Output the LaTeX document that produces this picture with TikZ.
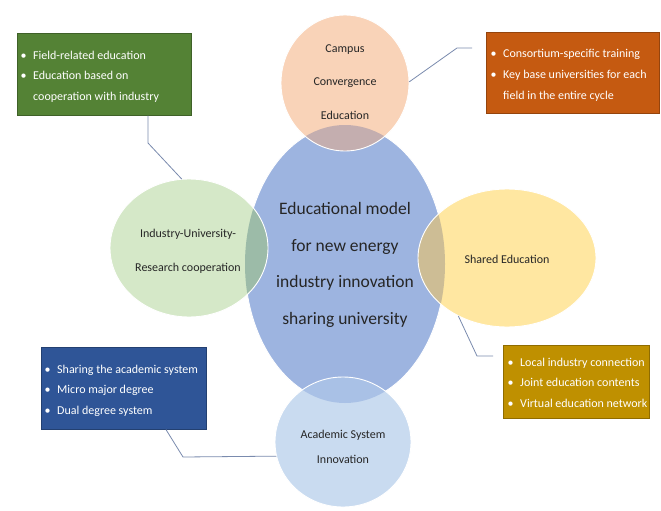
\documentclass[tikz,border=0pt]{standalone}
\usepackage{fontspec}
\setmainfont{Carlito}
\usetikzlibrary{shapes.geometric}
\definecolor{cblue}{HTML}{9DB4E0}
\definecolor{cpeach}{HTML}{F9D3B8}
\definecolor{cgreen}{HTML}{D5E8C8}
\definecolor{cyellow}{HTML}{FFE7A1}
\definecolor{clblue}{HTML}{C9DBF0}
\definecolor{ovpeach}{HTML}{C4AEAF}
\definecolor{ovgreen}{HTML}{9CBBA8}
\definecolor{ovyellow}{HTML}{CDBD95}
\definecolor{ovlblue}{HTML}{A9C1E6}
\definecolor{bgreen}{HTML}{548235}
\definecolor{borange}{HTML}{C55A11}
\definecolor{bblue}{HTML}{2F5597}
\definecolor{bgold}{HTML}{BF9000}
\definecolor{ctext}{HTML}{262626}
\definecolor{cconn}{HTML}{7A8BAE}
\newcommand{\bul}{\makebox[12.5pt][l]{•}}
\newcommand{\ind}{\hspace*{12.5pt}}
\begin{document}
\begin{tikzpicture}[x=1pt,y=-1pt,
  ell/.style={ellipse, inner sep=0pt, draw=none},
  ringline/.style={draw=white, line width=0.9pt},
  lbl/.style={align=center, text=ctext, inner sep=0pt},
  boxnode/.style={rectangle, anchor=north west, inner sep=0pt, draw=#1!75!black, line width=0.6pt, fill=#1},
  btxt/.style={anchor=west, align=left, text=white, inner sep=0pt, font=\fontsize{12}{20.8}\selectfont},
  conn/.style={draw=cconn, line width=0.8pt}]
\useasboundingbox (0,0) rectangle (661,511);
\fill[white] (0,0) rectangle (661,511);
% ellipses
\node[ell, fill=cblue, draw=white, line width=0.9pt, minimum width=200pt, minimum height=278pt] (core) at (345,264) {};
\node[ell, fill=cpeach, minimum width=128pt, minimum height=136pt] (campus) at (345,83) {};
\node[ell, fill=cgreen, minimum width=158pt, minimum height=138pt] (iur) at (189,248) {};
\node[ell, fill=cyellow, minimum width=178pt, minimum height=138pt] (shared) at (507,258) {};
\node[ell, fill=clblue, minimum width=136pt, minimum height=130pt] (acad) at (343,442) {};
% overlaps
\begin{scope}
\clip (345,264) ellipse [x radius=100pt, y radius=139pt];
\fill[ovpeach] (345,83) ellipse [x radius=64pt, y radius=68pt];
\fill[ovgreen] (189,248) ellipse [x radius=79pt, y radius=69pt];
\fill[ovyellow] (507,258) ellipse [x radius=89pt, y radius=69pt];
\fill[ovlblue] (343,442) ellipse [x radius=68pt, y radius=65pt];
\end{scope}
\draw[ringline] (345,83) ellipse [x radius=64pt, y radius=68pt];
\draw[ringline] (189,248) ellipse [x radius=79pt, y radius=69pt];
\draw[ringline] (507,258) ellipse [x radius=89pt, y radius=69pt];
\draw[ringline] (343,442) ellipse [x radius=68pt, y radius=65pt];
% labels
\node[lbl, font=\fontsize{17.5}{36.7}\selectfont] (coretext) at (345,265) {Educational model\\for new energy\\industry innovation\\sharing university};
\node[lbl, font=\fontsize{12}{33.5}\selectfont] (campustext) at (345,82) {Campus\\Convergence\\Education};
\node[lbl, font=\fontsize{12}{34}\selectfont] (iurtext) at (188,251) {Industry-University-\\Research cooperation};
\node[lbl, font=\fontsize{12}{20}\selectfont] (sharedtext) at (507,259) {Shared Education};
\node[lbl, font=\fontsize{12}{25}\selectfont] (acadtext) at (343,447) {Academic System\\Innovation};
% boxes
\node[boxnode=bgreen, minimum width=174pt, minimum height=82pt] (gbox) at (17,33) {};
\node[btxt] (gtxt) at ([xshift=3.5pt,yshift=-2.5pt]gbox.west) {\bul Field-related education\\\bul Education based on\\\ind cooperation with industry};
\node[boxnode=borange, minimum width=173pt, minimum height=81pt] (obox) at (486,32) {};
\node[btxt] (otxt) at ([xshift=4.5pt,yshift=-2.5pt]obox.west) {\bul Consortium-specific training\\\bul Key base universities for each\\\ind field in the entire cycle};
\node[boxnode=bblue, minimum width=165pt, minimum height=82pt] (bbox) at (41,347) {};
\node[btxt] (btxtn) at ([xshift=3.5pt,yshift=-2.5pt]bbox.west) {\bul Sharing the academic system\\\bul Micro major degree\\\bul Dual degree system};
\node[boxnode=bgold, minimum width=146pt, minimum height=73pt] (ybox) at (503,345) {};
\node[btxt] (ytxt) at ([xshift=4.5pt,yshift=-1pt]ybox.west) {\bul Local industry connection\\\bul Joint education contents\\\bul Virtual education network};
% connectors
\coordinate (g1) at (148,143);
\draw[conn] (gbox.south -| g1) -- (g1) -- (iur.96.7);
\coordinate (o1) at (457,48);
\coordinate (o2) at (472,48);
\draw[conn] (campus.1) -- (o1) -- (o2);
\coordinate (y1) at (477,356);
\coordinate (y2) at (493,356);
\draw[conn] (shared.230.7) -- (y1) -- (y2);
\coordinate (b0) at (166,429);
\coordinate (b1) at (183,457);
\draw[conn] (bbox.south -| b0) -- (b1) -- (acad.192.8);
\end{tikzpicture}
\end{document}
